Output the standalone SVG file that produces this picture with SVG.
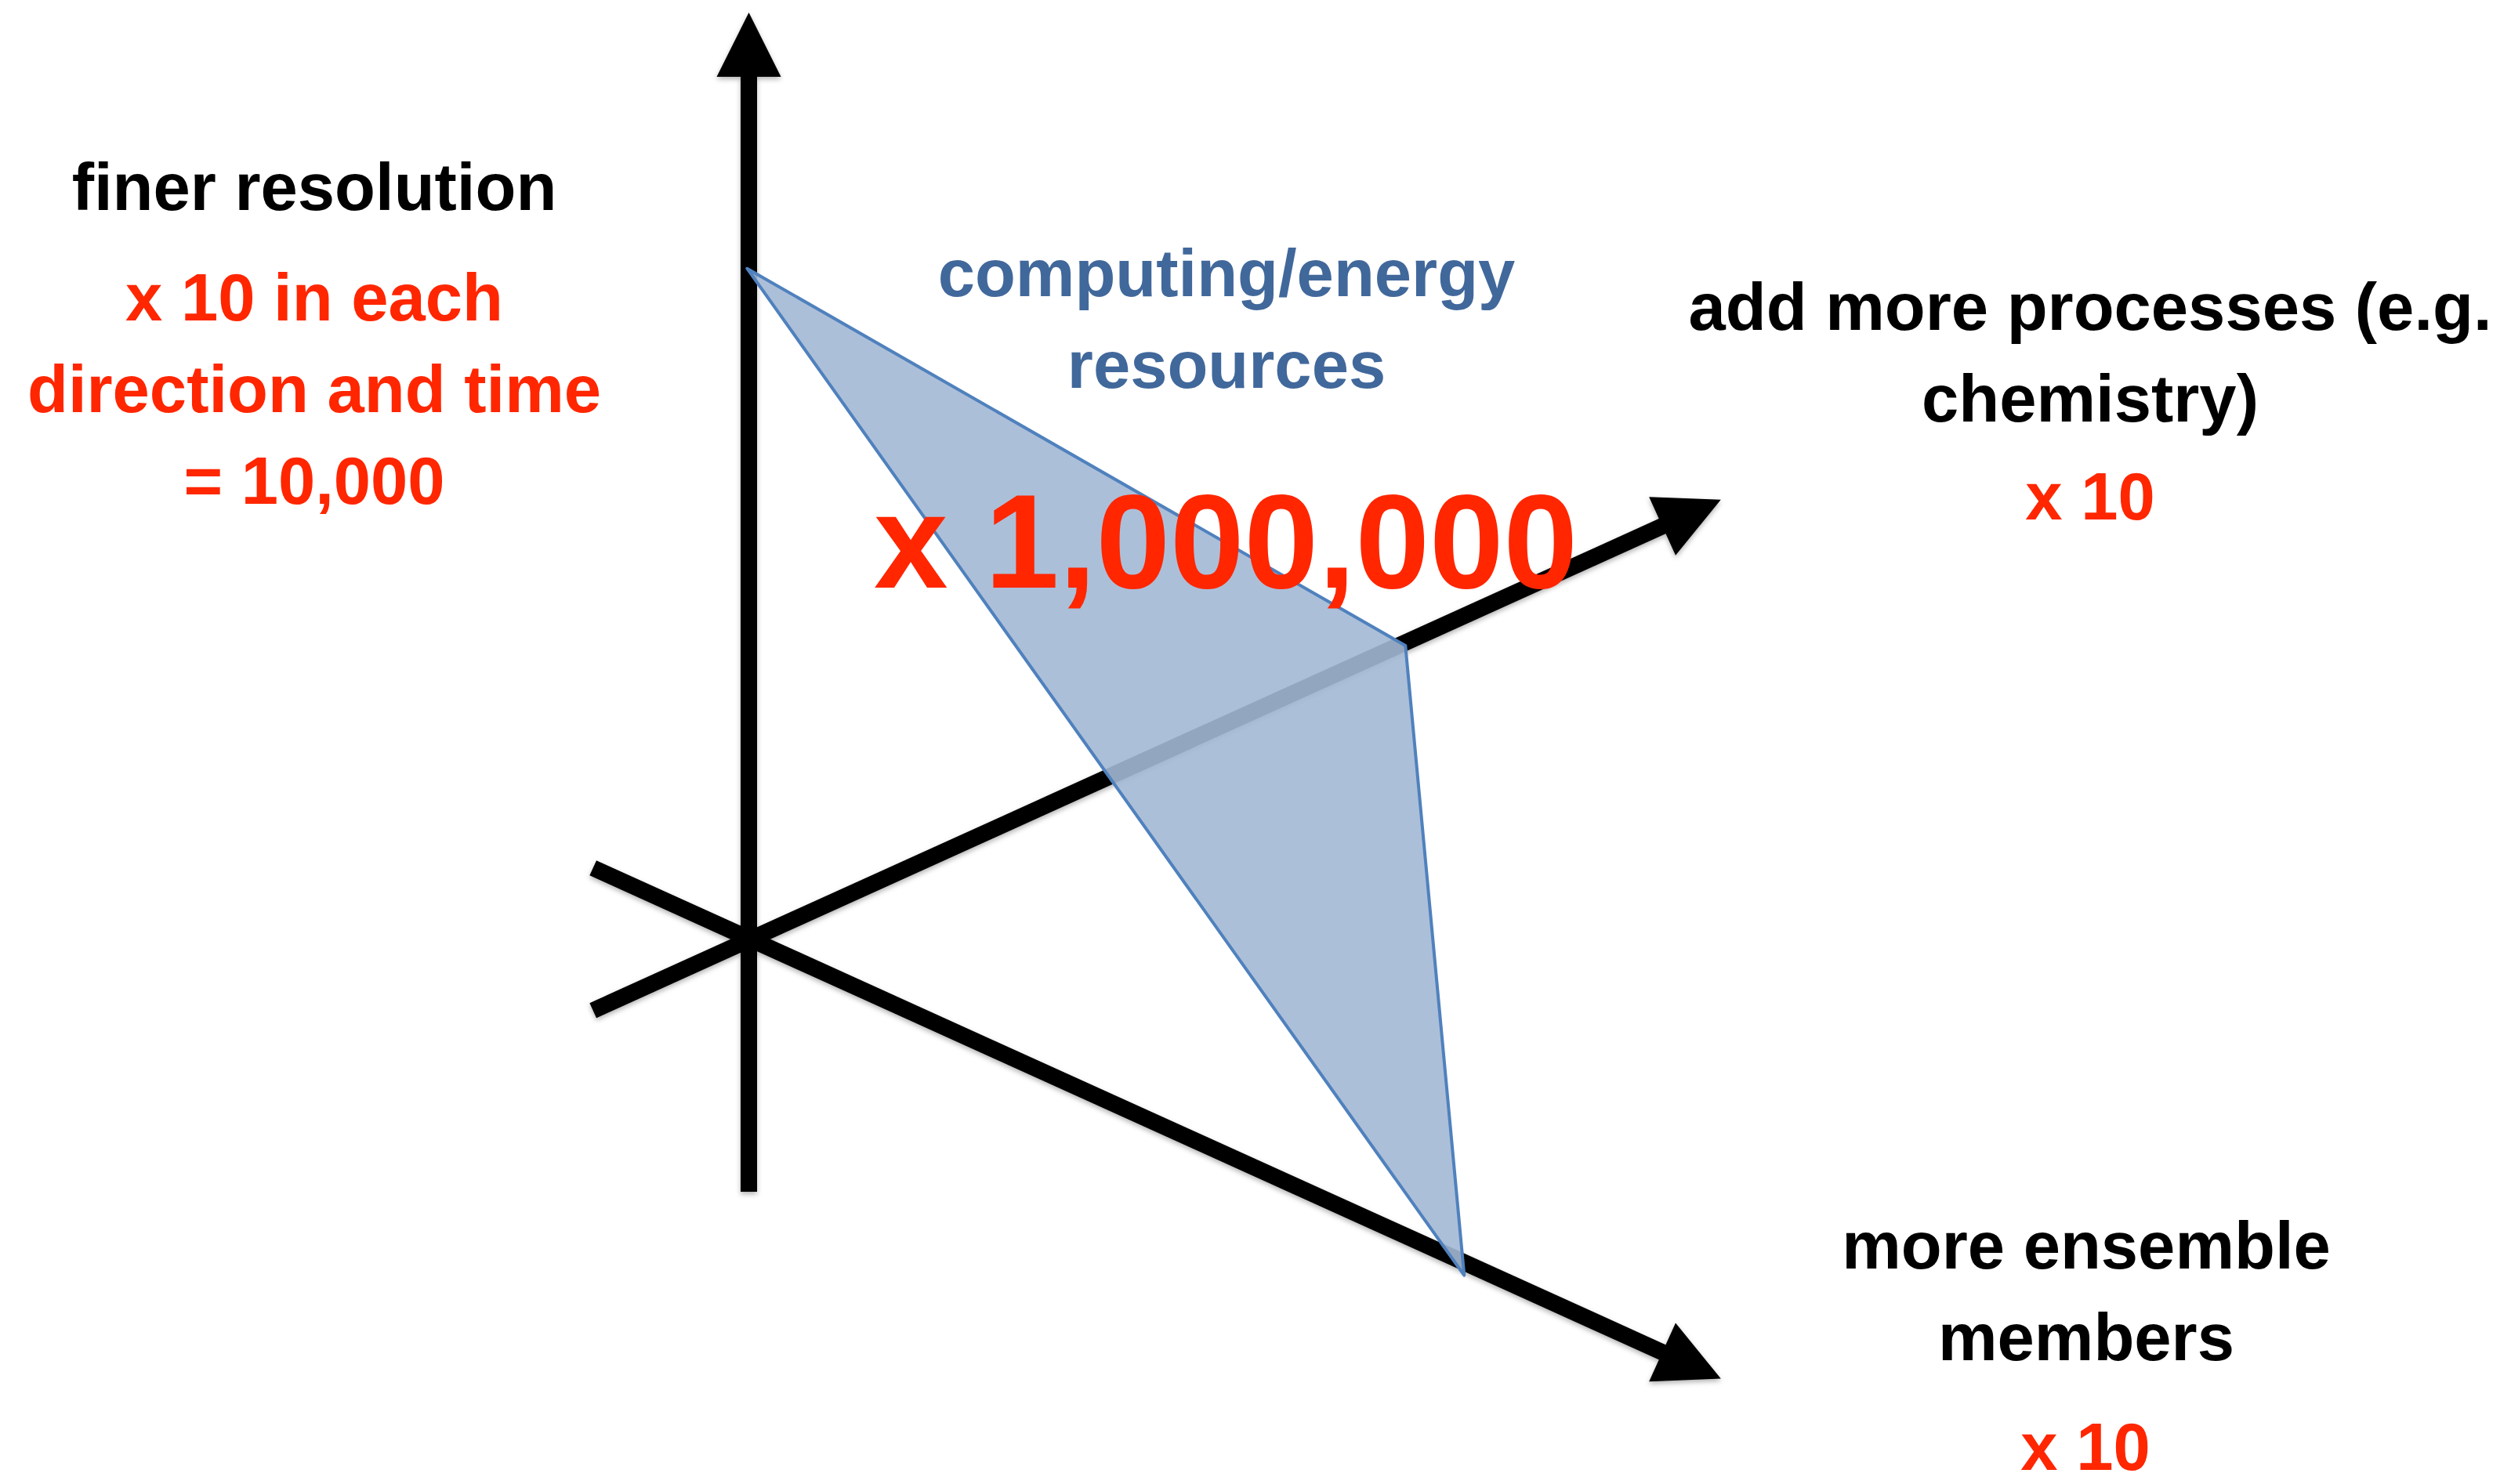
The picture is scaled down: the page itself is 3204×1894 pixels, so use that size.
<svg xmlns="http://www.w3.org/2000/svg" width="3204" height="1894" viewBox="0 0 3204 1894">
  <style>
    .lbl { font-family: "Liberation Sans", Arial, Helvetica, sans-serif; font-weight: bold; font-size: 85px; text-anchor: middle; }
    .blk { fill: #000000; }
    .red { fill: #FF2600; }
    .blu { fill: #41689B; }
    .axis { stroke: #000000; stroke-width: 21; fill: none; stroke-linecap: butt; }
  </style>
  <defs>
    <filter id="shadow" x="-10%" y="-10%" width="120%" height="120%">
      <feDropShadow dx="0" dy="3" stdDeviation="3" flood-color="#000000" flood-opacity="0.3"/>
    </filter>
    <marker id="arrow" markerUnits="userSpaceOnUse" markerWidth="84" markerHeight="84" refX="1" refY="41" orient="auto" overflow="visible">
      <path d="M0,0 L82,41 L0,82 Z" fill="#000000"/>
    </marker>
  </defs>
  <rect width="3204" height="1894" fill="#ffffff"/>

  <g id="connectors" filter="url(#shadow)">
    <line id="axis-resolution" class="axis" x1="955.5" y1="1521" x2="955.5" y2="97" marker-end="url(#arrow)"/>
    <line id="axis-processes" class="axis" x1="756.7" y1="1289.7" x2="2122" y2="671.1" marker-end="url(#arrow)"/>
    <line id="axis-ensemble" class="axis" x1="756.7" y1="1107.7" x2="2122" y2="1726.2" marker-end="url(#arrow)"/>
  </g>

  <g id="resources-triangle">
    <polygon points="953.3,342.7 1793.3,824 1868.3,1627.7" fill="#A3B8D5" fill-opacity="0.9" stroke="#4F81BD" stroke-width="4" stroke-linejoin="round"/>
  </g>

  <g id="label-resolution">
    <text class="lbl blk" x="401" y="268">finer resolution</text>
    <text class="lbl red" x="401" y="409">x 10 in each</text>
    <text class="lbl red" x="401" y="526">direction and time</text>
    <text class="lbl red" x="401" y="643">= 10,000</text>
  </g>

  <g id="label-resources">
    <text class="lbl blu" x="1565" y="378">computing/energy</text>
    <text class="lbl blu" x="1565" y="495">resources</text>
  </g>

  <g id="label-total">
    <text class="lbl red" x="1564" y="750" style="font-size:170px">x 1,000,000</text>
  </g>

  <g id="label-processes">
    <text class="lbl blk" x="2667" y="421">add more processes (e.g.</text>
    <text class="lbl blk" x="2667" y="538">chemistry)</text>
    <text class="lbl red" x="2667" y="663">x 10</text>
  </g>

  <g id="label-ensemble">
    <text class="lbl blk" x="2662" y="1619">more ensemble</text>
    <text class="lbl blk" x="2662" y="1736">members</text>
    <text class="lbl red" x="2661" y="1876">x 10</text>
  </g>
</svg>
